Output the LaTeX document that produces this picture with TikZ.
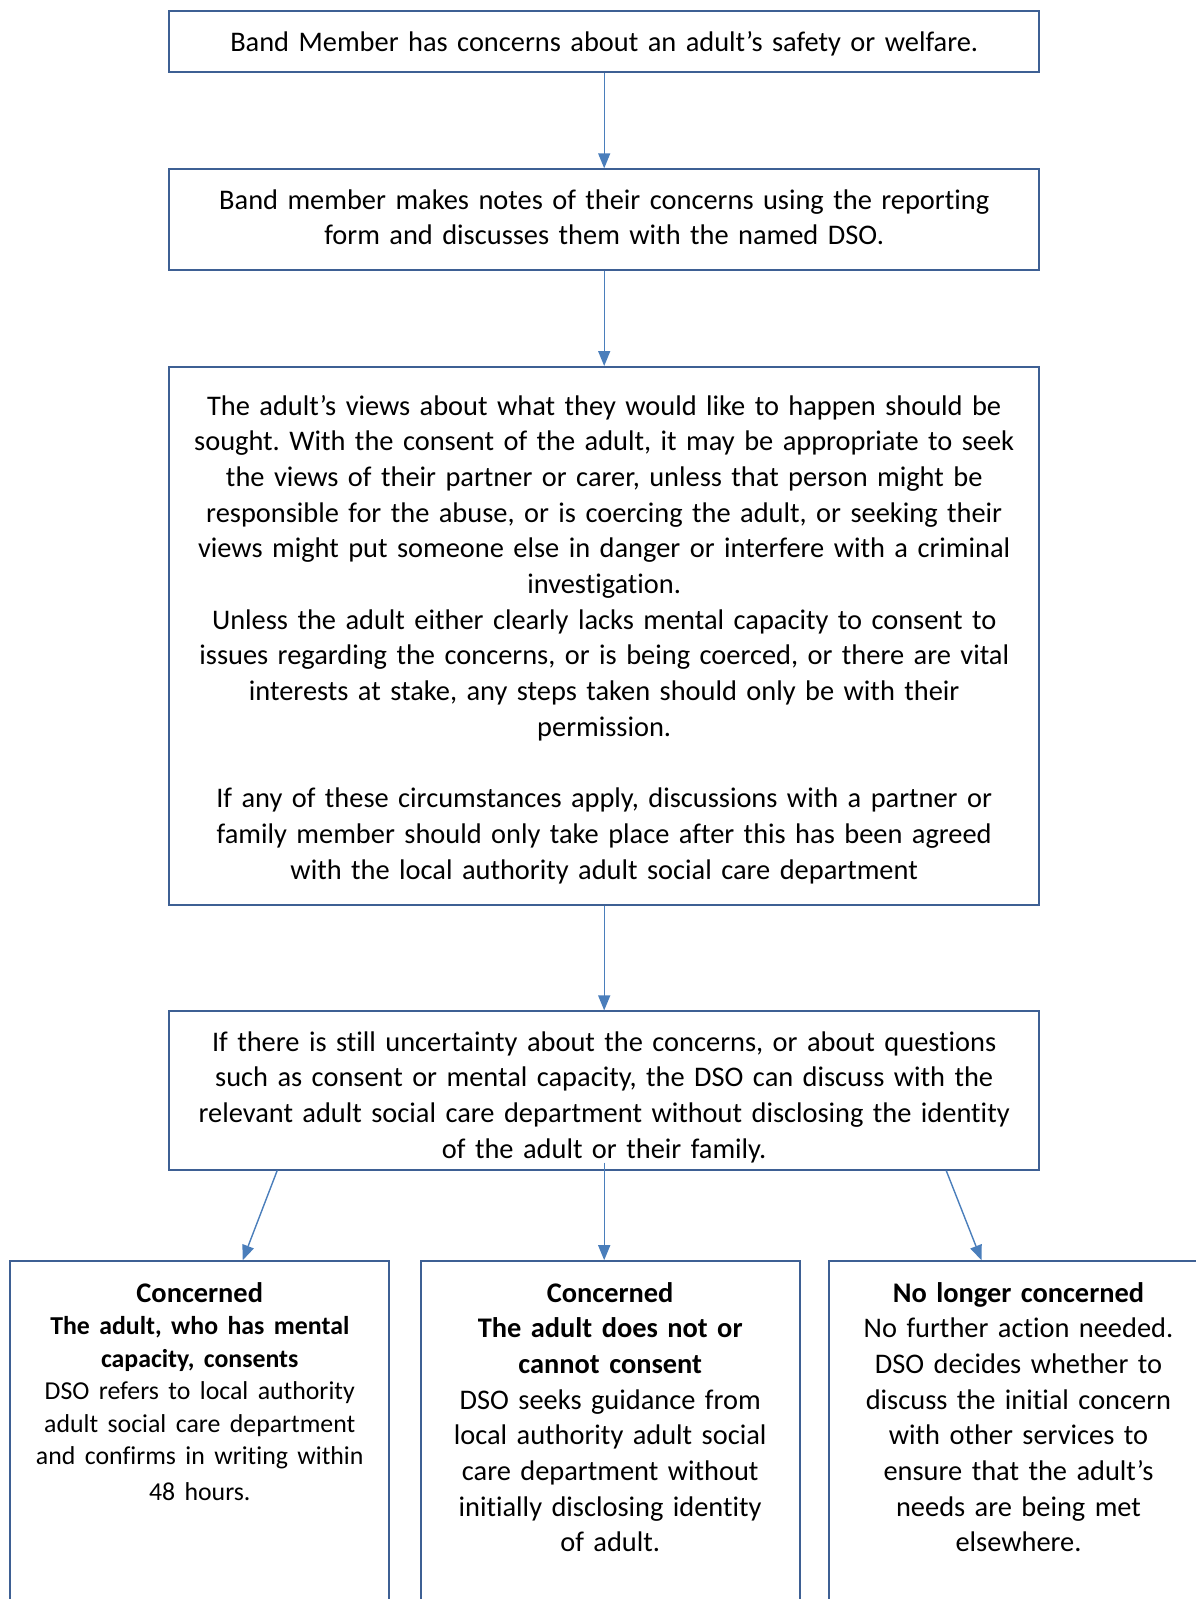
\documentclass[tikz,border=0pt]{standalone}
\usepackage{fontspec}
\setmainfont{Carlito}[Ligatures={TeX,CommonOff}]
\usepackage{tikz}
\usetikzlibrary{arrows.meta, calc, positioning}
\definecolor{boxblue}{RGB}{62,96,148}
\definecolor{arrowblue}{RGB}{74,126,187}
\tikzset{stage/.style={draw=boxblue, line width=2pt, align=center, anchor=base, inner ysep=0pt, text width=869.8pt, inner xsep=0pt, font=\fontsize{28.4}{35.7}\selectfont},
	outcome/.style={stage, text width=379pt, inner xsep=0pt, text height=40.8pt, text depth=328pt},
	flow/.style={->, draw=arrowblue, line width=1.4pt}}

\begin{document}
\frenchspacing
\begin{tikzpicture}[x=1pt, y=-1pt, >={Triangle[length=15pt,width=12pt]}]
		\useasboundingbox (0,0) rectangle (1195,1599);
		\node[stage, text height=40pt, text depth=21.4pt] (concern) at (604.2,51) {Band Member has concerns about an adult’s safety or welfare.};
		\node[stage, text height=39.7pt, text depth=61.2pt] (notes) at (604.2,209) {Band member makes notes of their concerns using the reporting\\form and discusses them with the named DSO.};
		\node[stage, text height=48pt, text depth=490.4pt] (views) at (604.2,415) {The adult’s views about what they would like to happen should be\\sought. With the consent of the adult, it may be appropriate to seek\\the views of their partner or carer, unless that person might be\\responsible for the abuse, or is coercing the adult, or seeking their\\views might put someone else in danger or interfere with a criminal\\investigation.\\Unless the adult either clearly lacks mental capacity to consent to\\issues regarding the concerns, or is being coerced, or there are vital\\interests at stake, any steps taken should only be with their\\permission.\\[35.7pt]If any of these circumstances apply, discussions with a partner or\\family member should only take place after this has been agreed\\with the local authority adult social care department};
		\node[stage, text height=39.6pt, text depth=118.5pt] (uncertain) at (604.2,1051) {If there is still uncertainty about the concerns, or about questions\\such as consent or mental capacity, the DSO can discuss with the\\relevant adult social care department without disclosing the identity\\of the adult or their family.};
		
		\node[outcome] (consents) at (199.75,1302) {\textbf{Concerned}\\{\fontsize{25.8}{32.5}\selectfont\textbf{The adult, who has mental}\\\textbf{capacity, consents}\\DSO refers to local authority\\adult social care department\\and confirms in writing within\\48 hours.}};
		\node[outcome] (noconsent) at (610.2,1302) {\textbf{Concerned}\\\textbf{The adult does not or}\\\textbf{cannot consent}\\DSO seeks guidance from\\local authority adult social\\care department without\\initially disclosing identity\\of adult.};
		\node[outcome] (noconcern) at (1018.5,1302) {\textbf{No longer concerned}\\No further action needed.\\DSO decides whether to\\discuss the initial concern\\with other services to\\ensure that the adult’s\\needs are being met\\elsewhere.};
		
		\draw[flow] (concern) -- (notes); \draw[flow] (notes) -- (views); \draw[flow] (views) -- (uncertain);
		\draw[flow] ([xshift=-327pt]uncertain.south) -- ([xshift=43pt]consents.north);
		\draw[flow] ([yshift=8pt]uncertain.south) -- (noconsent.north -| uncertain.south);
		\draw[flow] ([xshift=342pt]uncertain.south) -- ([xshift=-37pt]noconcern.north);
	\end{tikzpicture}
\end{document}
